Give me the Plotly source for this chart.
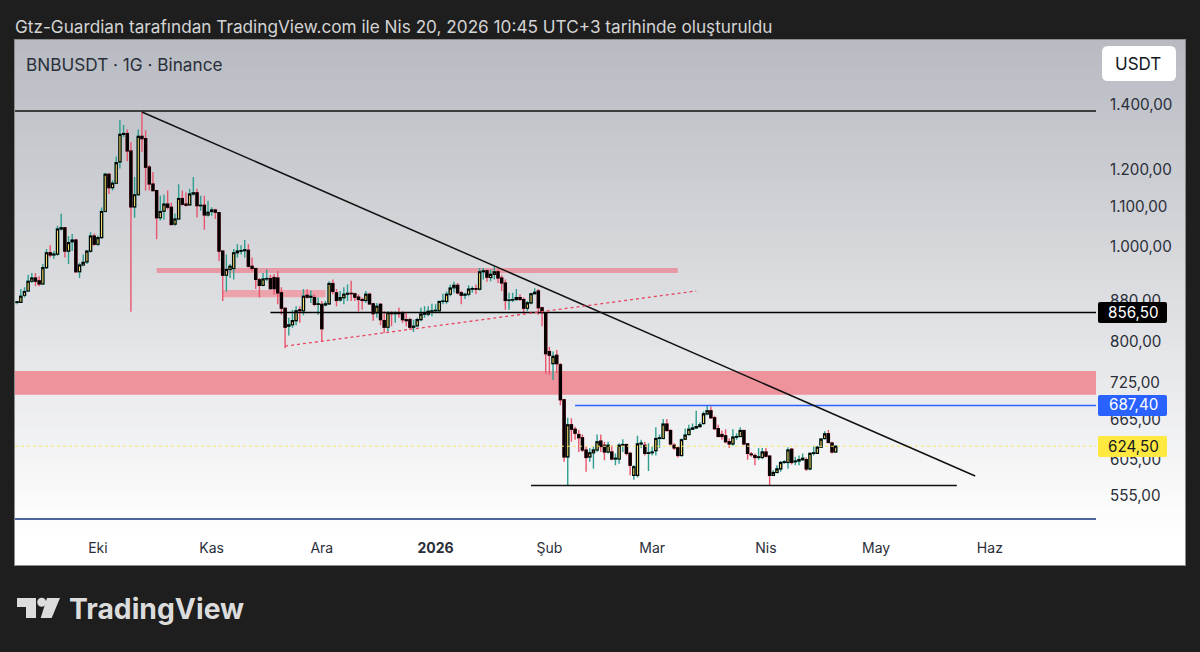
import pandas as pd
import plotly.graph_objects as go

# BNBUSDT daily candles
start_date = "2025-09-08"

opens = [
    876, 877, 877, 892, 901, 922, 929, 923, 916, 952,
    986, 981, 983, 1043, 1046, 990, 1012, 1016, 943, 958,
    965, 990, 1026, 1006, 1022, 1087, 1187, 1150, 1162, 1222,
    1304, 1307, 1254, 1099, 1131, 1298, 1291, 1207, 1160, 1142,
    1071, 1088, 1106, 1098, 1055, 1068, 1121, 1106, 1104, 1133,
    1136, 1102, 1103, 1078, 1087, 1091, 1084, 990, 935, 948,
    950, 986, 990, 991, 992, 955, 950, 925, 913, 927,
    928, 930, 929, 897, 865, 829, 832, 840, 862, 860,
    892, 888, 887, 873, 873, 872, 874, 917, 897, 882,
    887, 894, 896, 895, 888, 883, 881, 894, 874, 856,
    873, 840, 827, 856, 854, 855, 854, 842, 842, 827,
    830, 842, 853, 853, 859, 860, 860, 879, 879, 894,
    908, 913, 897, 892, 894, 905, 906, 905, 943, 945,
    930, 937, 943, 929, 918, 881, 882, 883, 887, 883,
    865, 876, 895, 901, 866, 856, 781, 759, 774, 757,
    697, 609, 657, 650, 642, 637, 619, 609, 615, 619,
    632, 626, 616, 616, 606, 606, 626, 627, 614, 583,
    583, 628, 626, 614, 615, 618, 636, 636, 658, 648,
    626, 622, 611, 635, 642, 650, 652, 654, 659, 674,
    679, 668, 651, 642, 640, 631, 628, 638, 639, 648,
    628, 613, 611, 608, 608, 616, 610, 583, 587, 592,
    601, 601, 620, 602, 603, 605, 605, 592, 614, 614,
    623, 636, 643, 629, 616,
]
highs = [
    880, 880, 905, 909, 936, 940, 940, 933, 960, 995,
    1004, 990, 1051, 1081, 1048, 1026, 1031, 1019, 963, 982,
    992, 1035, 1032, 1027, 1097, 1191, 1190, 1170, 1238, 1349,
    1333, 1319, 1281, 1179, 1319, 1375, 1317, 1213, 1193, 1144,
    1128, 1131, 1142, 1110, 1082, 1159, 1142, 1137, 1147, 1179,
    1147, 1128, 1128, 1115, 1098, 1094, 1085, 992, 982, 960,
    995, 1006, 1004, 1016, 1006, 975, 952, 929, 940, 948,
    936, 938, 944, 909, 866, 846, 862, 869, 869, 905,
    905, 902, 894, 887, 880, 880, 922, 926, 905, 901,
    909, 915, 923, 897, 894, 887, 901, 897, 876, 876,
    876, 859, 859, 859, 859, 866, 859, 856, 846, 842,
    846, 866, 869, 869, 874, 873, 881, 895, 900, 915,
    921, 918, 901, 897, 913, 911, 915, 951, 951, 948,
    948, 955, 948, 935, 926, 897, 897, 905, 894, 887,
    880, 897, 907, 905, 868, 857, 790, 781, 784, 760,
    698, 668, 667, 654, 649, 642, 624, 622, 624, 642,
    642, 631, 631, 626, 614, 629, 635, 628, 616, 597,
    640, 634, 631, 629, 624, 653, 642, 666, 666, 650,
    629, 624, 636, 651, 657, 659, 679, 661, 678, 687,
    686, 671, 657, 648, 650, 636, 650, 644, 653, 649,
    629, 616, 614, 622, 622, 622, 611, 590, 597, 603,
    604, 623, 622, 609, 611, 614, 608, 615, 625, 625,
    636, 647, 649, 631, 626,
]
lows = [
    873, 873, 876, 887, 900, 918, 911, 911, 915, 949,
    975, 972, 979, 1039, 975, 960, 990, 940, 929, 955,
    960, 986, 1002, 1002, 1020, 1085, 1133, 1142, 1160, 1203,
    1296, 1224, 858, 1071, 1128, 1251, 1142, 1142, 1140, 1018,
    1064, 1066, 1093, 1051, 1051, 1066, 1102, 1100, 1104, 1128,
    1072, 1089, 1041, 1074, 1076, 1068, 967, 880, 900, 929,
    926, 975, 982, 975, 952, 944, 905, 887, 911, 922,
    904, 893, 873, 852, 787, 811, 826, 831, 836, 851,
    885, 876, 869, 852, 799, 869, 872, 894, 869, 879,
    873, 880, 880, 880, 859, 862, 876, 872, 840, 846,
    831, 816, 819, 829, 836, 846, 836, 829, 822, 818,
    827, 839, 846, 849, 849, 856, 857, 873, 874, 890,
    897, 894, 873, 884, 890, 897, 894, 902, 926, 921,
    922, 926, 918, 901, 862, 862, 878, 880, 880, 852,
    859, 873, 894, 852, 829, 741, 739, 730, 742, 688,
    602, 569, 631, 634, 616, 616, 588, 602, 592, 616,
    616, 604, 614, 604, 597, 599, 616, 611, 583, 577,
    580, 622, 611, 589, 611, 611, 622, 635, 646, 626,
    619, 608, 609, 634, 640, 649, 651, 653, 657, 672,
    666, 649, 638, 634, 629, 622, 625, 634, 638, 626,
    605, 609, 597, 605, 606, 608, 569, 582, 586, 588,
    599, 592, 598, 597, 597, 603, 589, 590, 611, 613,
    622, 634, 629, 614, 615,
]
closes = [
    877, 878, 890, 900, 922, 929, 922, 916, 952, 986,
    981, 983, 1043, 1046, 990, 1010, 1016, 943, 958, 964,
    990, 1026, 1006, 1022, 1087, 1187, 1150, 1162, 1220, 1304,
    1307, 1254, 1099, 1131, 1298, 1291, 1207, 1160, 1142, 1071,
    1087, 1106, 1098, 1054, 1068, 1121, 1106, 1103, 1133, 1136,
    1102, 1103, 1078, 1085, 1091, 1085, 990, 935, 948, 955,
    986, 990, 991, 993, 955, 950, 926, 913, 927, 928,
    906, 906, 897, 865, 827, 832, 840, 860, 860, 890,
    888, 890, 873, 874, 824, 874, 917, 900, 881, 887,
    894, 896, 895, 888, 883, 881, 894, 874, 854, 869,
    842, 827, 856, 854, 855, 854, 842, 840, 827, 829,
    842, 853, 854, 859, 860, 861, 879, 880, 894, 907,
    913, 897, 892, 894, 905, 906, 905, 943, 945, 931,
    937, 943, 929, 918, 881, 882, 883, 887, 883, 865,
    876, 895, 898, 866, 856, 777, 774, 772, 759, 697,
    609, 657, 650, 644, 637, 619, 608, 615, 619, 631,
    624, 616, 626, 606, 607, 626, 627, 614, 597, 595,
    628, 629, 614, 615, 616, 636, 637, 658, 648, 628,
    622, 611, 634, 641, 650, 652, 654, 657, 674, 679,
    668, 651, 639, 639, 631, 628, 638, 639, 648, 628,
    614, 612, 608, 609, 616, 610, 583, 587, 592, 601,
    602, 619, 601, 603, 605, 607, 592, 614, 615, 623,
    635, 643, 630, 616, 624.5,
]
assert len(opens) == len(highs) == len(lows) == len(closes) == 225

# axis ticks
month_ticks = ["2025-10-01", "2025-11-01", "2025-12-01", "2026-01-01", "2026-02-01",
               "2026-03-01", "2026-04-01", "2026-05-01", "2026-06-01"]
month_labels = ["Eki", "Kas", "Ara", "<b>2026</b>", "Şub", "Mar", "Nis", "May", "Haz"]
price_ticks = [1400, 1200, 1100, 1000, 880, 800, 725, 665, 605, 555]
price_labels = ["1.400,00", "1.200,00", "1.100,00", "1.000,00", "880,00",
                "800,00", "725,00", "665,00", "605,00", "555,00"]

# price levels the author drew
top_level = 1378
bottom_level = 526
support_level = 569
black_level = 856.5
blue_level = 687.4
last_price = 624.5
big_zone = [705, 746]
thin_zone = [940, 951]
small_zone = [888, 903]

INK = "#2a2e39"
FONT = "Inter"

# the plot area in pixels, everything around it is placed from these
LEFT, RIGHT, TOP, BOTTOM = 15, 1096, 40, 534


def px(x):
    return (x - LEFT) / (RIGHT - LEFT)


def py(y):
    return (BOTTOM - y) / (BOTTOM - TOP)


def round_rect(x0, y0, x1, y1, r, color):
    path = (f"M{px(x0 + r)},{py(y0)} L{px(x1 - r)},{py(y0)} Q{px(x1)},{py(y0)} {px(x1)},{py(y0 + r)} "
            f"L{px(x1)},{py(y1 - r)} Q{px(x1)},{py(y1)} {px(x1 - r)},{py(y1)} "
            f"L{px(x0 + r)},{py(y1)} Q{px(x0)},{py(y1)} {px(x0)},{py(y1 - r)} "
            f"L{px(x0)},{py(y0 + r)} Q{px(x0)},{py(y0)} {px(x0 + r)},{py(y0)} Z")
    return dict(type="path", path=path, xref="paper", yref="paper", fillcolor=color,
                line_width=0, layer="above")


def label(x, y, text, size, color, anchor="center", family=FONT):
    return dict(x=px(x), y=py(y), xref="paper", yref="paper", text=text, showarrow=False,
                xanchor=anchor, yanchor="middle", font=dict(family=family, size=size, color=color))


def hline(x0, x1, y, color, width=1.5, dash="solid"):
    return dict(type="line", xref="x", yref="y", x0=x0, x1=x1, y0=y, y1=y,
                line=dict(color=color, width=width, dash=dash), layer="above")


def zone(x0, x1, levels, color):
    return dict(type="rect", xref="x", yref="y", x0=x0, x1=x1, y0=levels[0], y1=levels[1],
                fillcolor=color, line_width=0, layer="below")


dates = pd.date_range(start_date, periods=len(opens))
x_start = "2025-09-08 10:00"
x_end = "2026-06-29 22:00"

fig = go.Figure()

# wicks first, then the bodies on top so body border and wick can differ in colour
fig.add_trace(go.Candlestick(
    x=dates, open=opens, high=highs, low=lows, close=closes,
    increasing=dict(line=dict(color="#2f9e8f", width=1.4), fillcolor="#2f9e8f"),
    decreasing=dict(line=dict(color="#e8566d", width=1.4), fillcolor="#e8566d"),
    whiskerwidth=0, hoverinfo="skip", showlegend=False,
))
fig.add_trace(go.Candlestick(
    x=dates, open=opens, close=closes,
    high=[max(o, c) for o, c in zip(opens, closes)],
    low=[min(o, c) for o, c in zip(opens, closes)],
    increasing=dict(line=dict(color="black", width=1.1), fillcolor="#f3dc6b"),
    decreasing=dict(line=dict(color="black", width=1.1), fillcolor="black"),
    whiskerwidth=0, hoverinfo="skip", showlegend=False,
))

shapes = []

# chart pane: grey at the top fading to white, plotly has no gradient so stack thin bands
shapes.append(dict(type="rect", xref="paper", yref="paper", x0=px(14), x1=px(1186), y0=py(39), y1=py(566),
                   fillcolor="#8b8b8b", line_width=0, layer="below"))
shapes.append(dict(type="rect", xref="paper", yref="paper", x0=px(15), x1=px(1185), y0=py(40), y1=py(565),
                   fillcolor="white", line_width=0, layer="below"))
for y in range(40, 530, 5):
    t = (y - 40) / 490
    r, g, b = [int(c + (255 - c) * t) for c in (184, 187, 194)]
    shapes.append(dict(type="rect", xref="paper", yref="paper", x0=px(15), x1=px(1185), y0=py(y), y1=py(y + 6),
                       fillcolor=f"rgb({r},{g},{b})", line_width=0, layer="below"))

shapes += [
    zone(x_start, x_end, big_zone, "#ee939c"),
    zone("2025-10-17", "2026-03-08", thin_zone, "#e79aa3"),
    zone("2025-11-04", "2025-12-02", small_zone, "#eda3ab"),
    hline(x_start, x_end, top_level, "#111111"),
    hline(x_start, x_end, bottom_level, "#12307a"),
    hline("2026-01-27", "2026-05-23", support_level, "#111111"),
    hline("2025-11-17", x_end, black_level, "black"),
    hline("2026-02-08", x_end, blue_level, "#2962ff"),
    hline(x_start, x_end, last_price, "#f5e56b", width=1, dash="dot"),
    # falling trendline from the top
    dict(type="line", xref="x", yref="y", x0="2025-10-13", y0=1375, x1="2026-05-28", y1=582,
         line=dict(color="#111111", width=1.5), layer="above"),
    # rising dotted trendline
    dict(type="line", xref="x", yref="y", x0="2025-11-21", y0=791, x1="2026-03-13", y1=901,
         line=dict(color="#e8465f", width=1.3, dash="dot"), layer="above"),
    # price badges and USDT button
    round_rect(1098, 302, 1167, 323, 2, "black"),
    round_rect(1098, 395, 1167, 416, 2, "#2962ff"),
    round_rect(1098, 436, 1167, 457, 2, "#ffe83f"),
    round_rect(1102, 46, 1176, 81, 6, "white"),
    # TradingView mark
    dict(type="path", xref="paper", yref="paper", fillcolor="#dcdcdc", line_width=0,
         path=f"M{px(17)},{py(598)} L{px(36)},{py(598)} L{px(36)},{py(618)} L{px(26)},{py(618)} "
              f"L{px(26)},{py(607)} L{px(17)},{py(607)} Z"),
    dict(type="circle", xref="paper", yref="paper", fillcolor="#dcdcdc", line_width=0,
         x0=px(37.2), x1=px(46.2), y0=py(597.8), y1=py(606.8)),
    dict(type="path", xref="paper", yref="paper", fillcolor="#dcdcdc", line_width=0,
         path=f"M{px(47)},{py(598)} L{px(60)},{py(598)} L{px(51.7)},{py(618)} L{px(40.7)},{py(618)} Z"),
]

annotations = [
    label(13, 26, "Gtz-Guardian tarafından TradingView.com ile Nis 20, 2026 10:45 UTC+3 tarihinde oluşturuldu",
          17.2, "#d4d4d4", anchor="left"),
    label(24, 64, "BNBUSDT · 1G · Binance", 17.2, INK, anchor="left"),
    label(1138, 64, "USDT", 17, "#131722"),
    label(1133, 312, "856,50", 15.2, "white"),
    label(1133, 405, "687,40", 15.2, "white"),
    label(1133, 446, "624,50", 15.2, "#131722"),
    label(67, 609, "<b>TradingView</b>", 28.3, "#dcdcdc", anchor="left"),
]

fig.update_layout(
    width=1200, height=652,
    margin=dict(l=LEFT, r=1200 - RIGHT, t=TOP, b=652 - BOTTOM),
    paper_bgcolor="#1e1e1e",
    plot_bgcolor="rgba(0,0,0,0)",
    shapes=shapes,
    annotations=annotations,
    showlegend=False,
    hovermode=False,
    boxgap=0.15,
    xaxis=dict(
        range=[x_start, x_end], rangeslider_visible=False, showgrid=False, zeroline=False,
        tickmode="array", tickvals=month_ticks, ticktext=month_labels,
        ticks="outside", ticklen=1, tickcolor="rgba(0,0,0,0)",
        tickfont=dict(family=FONT, size=14, color=INK),
    ),
    yaxis=dict(
        type="log", range=[2.7055, 3.2121], side="right", showgrid=False, zeroline=False,
        tickmode="array", tickvals=price_ticks, ticktext=price_labels,
        ticks="outside", ticklen=10, tickcolor="rgba(0,0,0,0)",
        tickfont=dict(family=FONT, size=15.2, color=INK),
    ),
)

# the browser's default body margin would push the whole page 8px down and right
fig.write_html("out.html", config={"displayModeBar": False},
               post_script="document.body.style.margin='0';")
